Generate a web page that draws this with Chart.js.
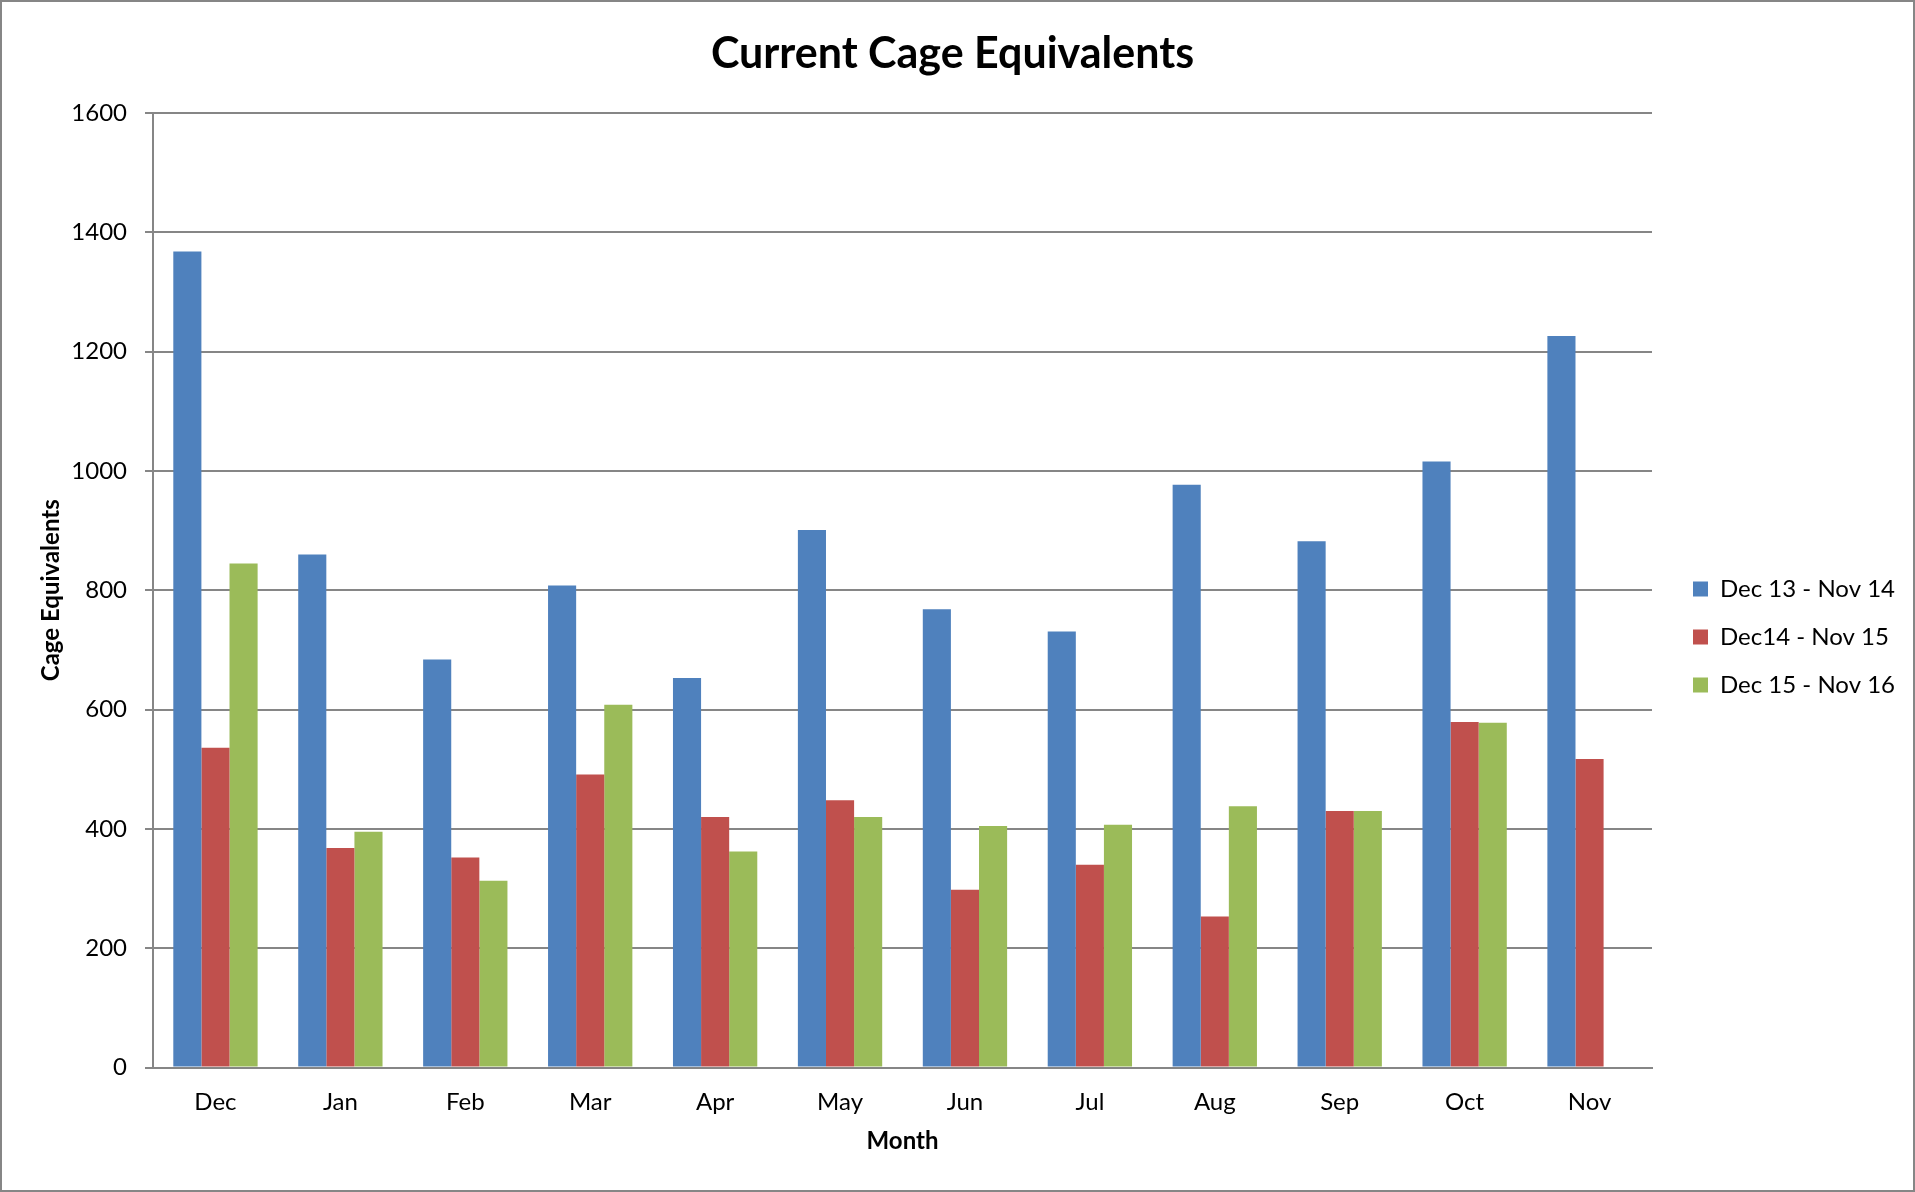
<!DOCTYPE html>
<html>
<head>
<meta charset="utf-8">
<title>Current Cage Equivalents</title>
<script src="https://cdn.jsdelivr.net/npm/chart.js@4.4.1/dist/chart.umd.min.js"></script>
<style>
    html, body {
        margin: 0;
        padding: 0;
        background: #ffffff;
    }

    #wrap {
        position: relative;
        width: 1915px;
        height: 1192px;
    }

    #myChart {
        display: block;
        outline: 2px solid #868686;
        outline-offset: -2px;
    }
</style>
</head>
<body>
<div id="wrap">
    <canvas id="myChart" width="1915" height="1192"></canvas>
</div>

<script>
    // chart data
    var months = ["Dec", "Jan", "Feb", "Mar", "Apr", "May", "Jun", "Jul", "Aug", "Sep", "Oct", "Nov"];
    var seriesNames = ["Dec 13 - Nov 14", "Dec14 - Nov 15", "Dec 15 - Nov 16"];
    var dec13 = [1368, 860, 684, 808, 653, 901, 768, 731, 977, 882, 1016, 1226];
    var dec14 = [536, 368, 352, 491, 420, 448, 298, 340, 253, 430, 579, 517];
    var dec15 = [845, 395, 313, 608, 362, 420, 405, 407, 438, 430, 578, null];
    var yTicks = [0, 200, 400, 600, 800, 1000, 1200, 1400, 1600];

    var barColors = ["#4F81BD", "#C0504D", "#9BBB59"];
    var fontName = "Lato, 'Open Sans', sans-serif";
    var gridColor = "#868686";

    function legendPadRight() {
        // keep the legend text inside the frame on the right
        let c = document.createElement("canvas").getContext("2d");
        c.font = "24px " + fontName;
        let w = 0;
        seriesNames.forEach(n => {
            w = Math.max(w, c.measureText(n).width);
        });
        return Math.max(0, 185 - w);
    }

    function diagram() {
        Chart.defaults.font.family = fontName;
        Chart.defaults.color = "#000000";

        new Chart("myChart", {
            type: "bar",
            data: {
                labels: months,
                datasets: [{
                    label: seriesNames[0],
                    backgroundColor: barColors[0],
                    data: dec13
                }, {
                    label: seriesNames[1],
                    backgroundColor: barColors[1],
                    data: dec14
                }, {
                    label: seriesNames[2],
                    backgroundColor: barColors[2],
                    data: dec15
                }]
            },
            options: {
                responsive: false,
                animation: false,
                categoryPercentage: 0.675,
                barPercentage: 1.0,
                layout: {
                    padding: {
                        left: 0,
                        top: 0,
                        bottom: 0,
                        right: legendPadRight()
                    }
                },
                plugins: {
                    title: {
                        display: true,
                        text: "Current Cage Equivalents",
                        font: {
                            size: 43,
                            weight: "bold"
                        },
                        padding: {
                            top: 28,
                            bottom: 33.4
                        }
                    },
                    legend: {
                        position: "right",
                        // empty title only pushes the items down
                        title: {
                            display: true,
                            text: "",
                            font: {
                                size: 12
                            },
                            padding: {
                                top: 0,
                                bottom: 67.6
                            }
                        },
                        labels: {
                            boxWidth: 15,
                            boxHeight: 15,
                            padding: 24,
                            font: {
                                size: 24
                            }
                        }
                    },
                    tooltip: {
                        enabled: false
                    }
                },
                scales: {
                    x: {
                        grid: {
                            display: false,
                            drawTicks: false
                        },
                        border: {
                            display: true,
                            color: gridColor,
                            width: 2
                        },
                        ticks: {
                            padding: 20,
                            font: {
                                size: 24
                            }
                        },
                        title: {
                            display: true,
                            text: "Month",
                            font: {
                                size: 24,
                                weight: "bold"
                            },
                            padding: {
                                top: 0,
                                bottom: 36
                            }
                        },
                        afterFit: function (scale) {
                            scale.height = 124.5;
                        }
                    },
                    y: {
                        min: 0,
                        max: 1600,
                        afterBuildTicks: function (scale) {
                            scale.ticks = yTicks.map(v => ({ value: v }));
                        },
                        grid: {
                            color: gridColor,
                            lineWidth: 2,
                            drawTicks: true,
                            tickLength: 8
                        },
                        border: {
                            display: true,
                            color: gridColor,
                            width: 2
                        },
                        ticks: {
                            padding: 18,
                            font: {
                                size: 24
                            },
                            callback: function (value) {
                                return String(value);
                            }
                        },
                        title: {
                            display: true,
                            text: "Cage Equivalents",
                            font: {
                                size: 24,
                                weight: "bold"
                            },
                            padding: {
                                top: 37,
                                bottom: 0
                            }
                        },
                        afterFit: function (scale) {
                            scale.width = 153;
                        }
                    },
                    // empty axis, only keeps a gap between plot and legend
                    gap: {
                        position: "right",
                        display: true,
                        grid: {
                            display: false
                        },
                        border: {
                            display: false
                        },
                        ticks: {
                            display: false
                        },
                        afterFit: function (scale) {
                            scale.width = 17;
                        }
                    }
                }
            }
        });
    }

    document.addEventListener('DOMContentLoaded', () => {
        diagram();
    });
</script>
</body>
</html>
